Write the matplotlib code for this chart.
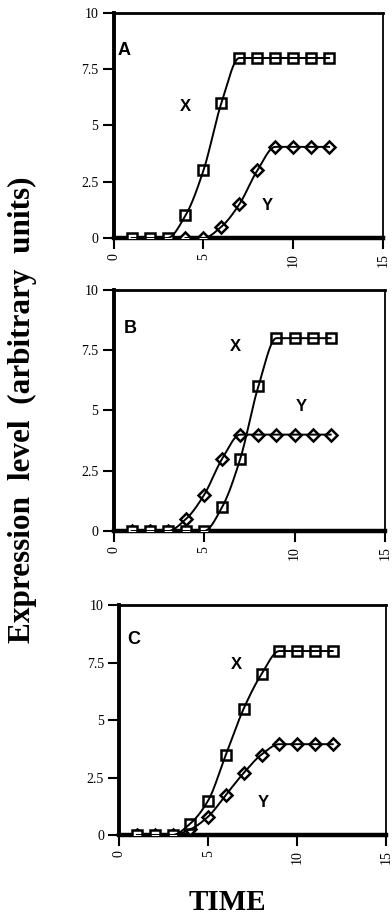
import numpy as np
import matplotlib
matplotlib.use("Agg")
import matplotlib.pyplot as plt

# time points (same for every panel)
time_pts = [1, 2, 3, 4, 5, 6, 7, 8, 9, 10, 11, 12]

# panel A
a_x = [0, 0, 0, 1, 3, 6, 8, 8, 8, 8, 8, 8]
a_y_time = [4, 5, 6, 7, 8, 9, 10, 11, 12]
a_y = [0, 0, 0.5, 1.5, 3, 4.05, 4.05, 4.05, 4.05]

# panel B
b_x = [0, 0, 0, 0, 0, 1, 3, 6, 8, 8, 8, 8]
b_y = [0, 0, 0, 0.5, 1.5, 3, 4, 4, 4, 4, 4, 4]

# panel C
c_x = [0, 0, 0, 0.5, 1.5, 3.5, 5.5, 7, 8, 8, 8, 8]
c_y = [0, 0, 0, 0.25, 0.8, 1.75, 2.7, 3.5, 3.95, 3.95, 3.95, 3.95]

panel_names = ["A", "B", "C"]
yticks = [0, 2.5, 5, 7.5, 10]
ytick_labels = ["0", "2.5", "5", "7.5", "10"]
xticks = [0, 5, 10, 15]


def smooth(x, y, n=300):
    '''
    monotone cubic (pchip style) curve through the points, for the drawn line
    '''
    x = np.asarray(x, float)
    y = np.asarray(y, float)
    h = np.diff(x)
    d = np.diff(y) / h
    m = np.zeros_like(y)
    for k in range(1, len(x) - 1):
        if d[k - 1] * d[k] > 0:
            w1 = 2 * h[k] + h[k - 1]
            w2 = h[k] + 2 * h[k - 1]
            m[k] = (w1 + w2) / (w1 / d[k - 1] + w2 / d[k])
    m[0] = d[0] if d[0] * (d[1] if len(d) > 1 else d[0]) > 0 else 0
    m[-1] = 0
    xs = np.linspace(x[0], x[-1], n)
    idx = np.clip(np.searchsorted(x, xs) - 1, 0, len(x) - 2)
    t = (xs - x[idx]) / h[idx]
    h00 = 2 * t**3 - 3 * t**2 + 1
    h10 = t**3 - 2 * t**2 + t
    h01 = -2 * t**3 + 3 * t**2
    h11 = t**3 - t**2
    ys = h00 * y[idx] + h10 * h[idx] * m[idx] + h01 * y[idx + 1] + h11 * h[idx] * m[idx + 1]
    return xs, ys


fig = plt.figure(figsize=(3.92, 9.17), dpi=100)

# axes boxes in figure fractions [left, bottom, width, height]
boxes = [
    [0.290, 0.7405, 0.687, 0.2453],
    [0.290, 0.4209, 0.692, 0.2629],
    [0.304, 0.0894, 0.681, 0.2508],
]

panels = [
    (time_pts, a_x, a_y_time, a_y),
    (time_pts, b_x, time_pts, b_y),
    (time_pts, c_x, time_pts, c_y),
]

# label positions (data coords): panel letter, X, Y
label_pos = [
    ((0.2, 8.35), (4.0, 5.85), (8.55, 1.45)),
    ((0.55, 8.4), (6.75, 7.65), (10.4, 5.15)),
    ((0.45, 8.5), (6.6, 7.4), (8.1, 1.4)),
]

sans = "Liberation Sans"
serif = "Liberation Serif"

for i, box in enumerate(boxes):
    ax = fig.add_axes(box)
    tx, xv, ty, yv = panels[i]

    ax.plot(ty, yv, linestyle="none", marker="D", ms=6, mfc="white",
            mec="black", mew=1.8, zorder=3)
    ax.plot(tx, xv, linestyle="none", marker="s", ms=7.5, mfc="white",
            mec="black", mew=1.8, zorder=4)

    # the curves sit on top of the markers, as in the original
    sx, sy = smooth(tx, xv)
    ax.plot(sx, sy, color="black", lw=1.4, zorder=5)
    sx, sy = smooth(ty, yv)
    ax.plot(sx, sy, color="black", lw=1.4, zorder=5)

    ax.set_xlim(0, 15)
    ax.set_ylim(0, 10)
    ax.set_xticks(xticks)
    ax.set_xticklabels([str(v) for v in xticks], rotation=90,
                       family=serif, fontsize=10)
    ax.set_yticks(yticks)
    ax.set_yticklabels(ytick_labels, family=serif, fontsize=10)
    ax.tick_params(direction="out", length=8, width=1.5, pad=3)

    ax.spines["left"].set_linewidth(2.8)
    ax.spines["bottom"].set_linewidth(3.2)
    ax.spines["top"].set_linewidth(2.0)
    ax.spines["right"].set_linewidth(1.3)

    pl, px, py = label_pos[i]
    ax.text(pl[0], pl[1], panel_names[i], family=sans, fontweight="bold",
            fontsize=13, va="center", ha="left")
    ax.text(px[0], px[1], "X", family=sans, fontweight="bold",
            fontsize=12, va="center", ha="center")
    ax.text(py[0], py[1], "Y", family=sans, fontweight="bold",
            fontsize=12, va="center", ha="center")

fig.text(22 / 392, 1 - 410 / 917, "Expression  level  (arbitrary  units)",
         family=serif, fontweight="bold", fontsize=22.5, rotation=90,
         ha="center", va="center")
fig.text(227 / 392, 1 - 902 / 917, "TIME", family=serif, fontweight="bold",
         fontsize=21, ha="center", va="center")

fig.savefig("out.png", dpi=100)
